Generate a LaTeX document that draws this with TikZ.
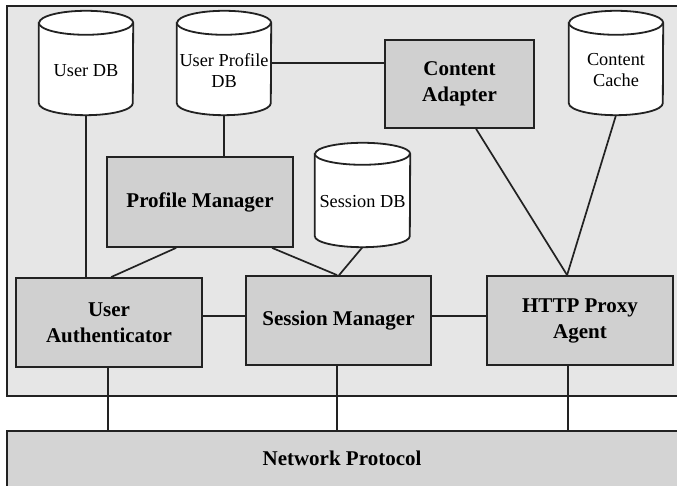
\documentclass[tikz,border=0pt]{standalone}
\usepackage{fontspec}
\setmainfont{Liberation Serif}
\usetikzlibrary{calc}
\definecolor{framefill}{HTML}{E6E6E6}
\definecolor{boxfill}{HTML}{D0D0D0}
\definecolor{netfill}{HTML}{D4D4D4}
\definecolor{ink}{HTML}{222222}
\newcommand\drawcyl[3]{%
  \draw[cylline] ([yshift=-#3]#1.north west) -- ([yshift=#3]#1.south west)
    arc[start angle=180,end angle=360,x radius=#2,y radius=#3]
    -- ([yshift=-#3]#1.north east)
    arc[start angle=0,end angle=180,x radius=#2,y radius=#3] -- cycle;
  \draw[cylline] ([yshift=-#3]#1.north west)
    arc[start angle=180,end angle=360,x radius=#2,y radius=#3];}
\tikzset{
  cylbox/.style={rectangle,draw=none,inner sep=0pt,minimum width=94pt},
  cylline/.style={draw=ink,line width=1.8pt,fill=white},
  dbtext/.style={font=\fontsize{18.3}{21}\selectfont,align=center,inner sep=0pt},
  comp/.style={rectangle,draw=ink,line width=1.8pt,fill=boxfill,inner sep=0pt,
    align=center,font=\fontsize{21}{26}\selectfont\bfseries},
  conn/.style={draw=ink,line width=1.7pt},
}
\begin{document}
\begin{tikzpicture}[x=1pt,y=1pt]
\useasboundingbox (0,0) rectangle (677,486);
\clip (0,0) rectangle (677,486);
\fill[white] (0,0) rectangle (677,486);
% outer frame
\draw[draw=ink,line width=1.8pt,fill=framefill] (7,90) rectangle (700,480);
% network protocol bar
\node[rectangle,draw=ink,line width=1.8pt,fill=netfill,inner sep=0pt,
  minimum width=693pt,minimum height=62pt] (np) at (353.5,24) {};
\node[font=\fontsize{21}{26}\selectfont\bfseries,inner sep=0pt] (npt) at (342,28) {Network Protocol};
% cylinders
\node[cylbox,minimum height=104pt] (udb) at (86,423) {};
\node[cylbox,minimum height=104pt] (updb) at (224,423) {};
\node[cylbox,minimum height=104pt] (cc) at (616,423) {};
\node[cylbox,minimum width=95pt,minimum height=104pt] (sdb) at (362.5,291) {};
\drawcyl{udb}{47pt}{12pt}
\drawcyl{updb}{47pt}{12pt}
\drawcyl{cc}{47pt}{12pt}
\drawcyl{sdb}{47.5pt}{11pt}
\node[dbtext] (udbt) at ([yshift=-8pt]udb.center) {User DB};
\node[dbtext] (updbt) at ([yshift=-7.5pt]updb.center) {User Profile\\DB};
\node[dbtext] (cct) at ([yshift=-7pt]cc.center) {Content\\Cache};
\node[dbtext] (sdbt) at ([yshift=-7pt]sdb.center) {Session DB};
% components
\node[comp,minimum width=186pt,minimum height=90pt] (pm) at (200,284) {Profile Manager};
\node[comp,minimum width=149pt,minimum height=88pt] (ca) at (459.5,402) {Content\\Adapter};
\node[comp,minimum width=186pt,minimum height=89pt] (ua) at (109,163.5) {User\\Authenticator};
\node[comp,minimum width=185pt,minimum height=89pt] (sm) at (338.5,165.5) {Session Manager};
\node[comp,minimum width=186pt,minimum height=89pt] (http) at (580,165.5) {HTTP Proxy\\Agent};
% connectors
\draw[conn] (udb.south) -- (udb.south |- ua.north);
\draw[conn] (updb.south) -- (updb.south |- pm.north);
\draw[conn] (updb.east) -- (updb.east -| ca.west);
\draw[conn] ([xshift=70pt]pm.south west) -- ([xshift=96pt]ua.north west);
\draw[conn] ([xshift=166pt]pm.south west) -- ([xshift=92pt]sm.north west);
\draw[conn] (sdb.south) -- ([xshift=94pt]sm.north west);
\draw[conn] ([xshift=92pt]ca.south west) -- ([xshift=81pt]http.north west);
\draw[conn] (cc.south) -- ([xshift=81pt]http.north west);
\draw[conn] ([yshift=6.5pt]ua.east) coordinate (t1) -- (t1 -| sm.west);
\draw[conn] ([yshift=4.5pt]sm.east) coordinate (t2) -- (t2 -| http.west);
\draw[conn] ([xshift=-1pt]ua.south) coordinate (b1) -- (b1 |- np.north);
\draw[conn] ([xshift=92pt]sm.south west) coordinate (b2) -- (b2 |- np.north);
\draw[conn] ([xshift=82pt]http.south west) coordinate (b3) -- (b3 |- np.north);
\end{tikzpicture}
\end{document}
